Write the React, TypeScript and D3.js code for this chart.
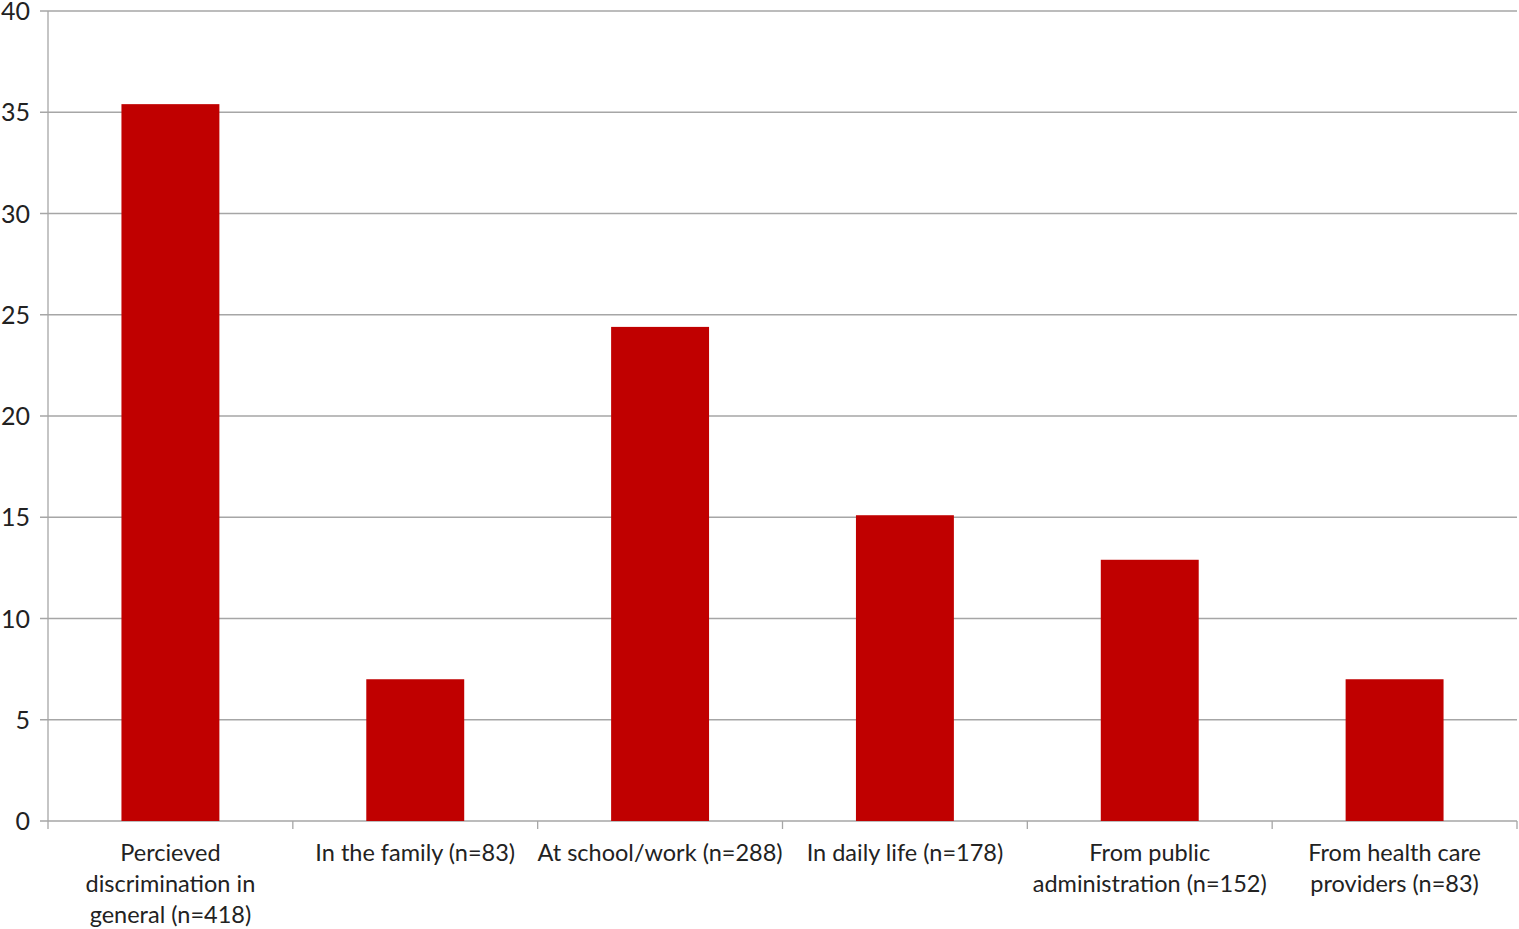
import React from "react";
import * as d3 from "d3";

const categories: string[] = [
  "Percieved discrimination in general (n=418)",
  "In the family (n=83)",
  "At school/work (n=288)",
  "In daily life (n=178)",
  "From public administration (n=152)",
  "From health care providers (n=83)",
];
const categoryLines: string[][] = [
  ["Percieved", "discrimination in", "general (n=418)"],
  ["In the family (n=83)"],
  ["At school/work (n=288)"],
  ["In daily life (n=178)"],
  ["From public", "administration (n=152)"],
  ["From health care", "providers (n=83)"],
];
const values: number[] = [35.4, 7.0, 24.4, 15.1, 12.9, 7.0];
const yTicks: number[] = [0, 5, 10, 15, 20, 25, 30, 35, 40];

const W = 1519;
const H = 929;
const left = 48;
const right = 1517;
const top = 11;
const bottom = 821;
const font = "Lato, 'Open Sans', sans-serif";

export default function App() {
  const x = d3.scaleBand<string>().domain(categories).range([left, right]).paddingInner(0).paddingOuter(0);
  const y = d3.scaleLinear().domain([0, 40]).range([bottom, top]);
  const bw = x.bandwidth() * 0.4;
  const grid = "#a6a6a6";
  return (
    <svg width={W} height={H} style={{ position: "absolute", left: 0, top: 0, background: "#fff" }}>
      {yTicks.map((t) => (
        <g key={t}>
          <line x1={left - 8} x2={right} y1={y(t)} y2={y(t)} stroke={grid} strokeWidth={1.3} />
          <text x={30} y={y(t)} dy="0.36em" textAnchor="end" fontFamily={font} fontSize={25} fill="#222">
            {t}
          </text>
        </g>
      ))}
      <line x1={left} x2={left} y1={top} y2={bottom} stroke={grid} strokeWidth={1.3} />
      {categories.map((c, i) => (
        <line key={"tk" + i} x1={x(c)!} x2={x(c)!} y1={bottom} y2={bottom + 8} stroke={grid} strokeWidth={1.3} />
      ))}
      <line x1={right} x2={right} y1={bottom} y2={bottom + 8} stroke={grid} strokeWidth={1.3} />
      {categories.map((c, i) => (
        <rect
          key={"b" + i}
          x={x(c)! + x.bandwidth() / 2 - bw / 2}
          y={y(values[i])}
          width={bw}
          height={y(0) - y(values[i])}
          fill="#C00000"
        />
      ))}
      {categories.map((c, i) => (
        <text
          key={"l" + i}
          x={x(c)! + x.bandwidth() / 2}
          y={861}
          textAnchor="middle"
          fontFamily={font}
          fontSize={23.5}
          fill="#222"
        >
          {categoryLines[i].map((ln, j) => (
            <tspan key={j} x={x(c)! + x.bandwidth() / 2} dy={j === 0 ? 0 : 31}>
              {ln}
            </tspan>
          ))}
        </text>
      ))}
    </svg>
  );
}
